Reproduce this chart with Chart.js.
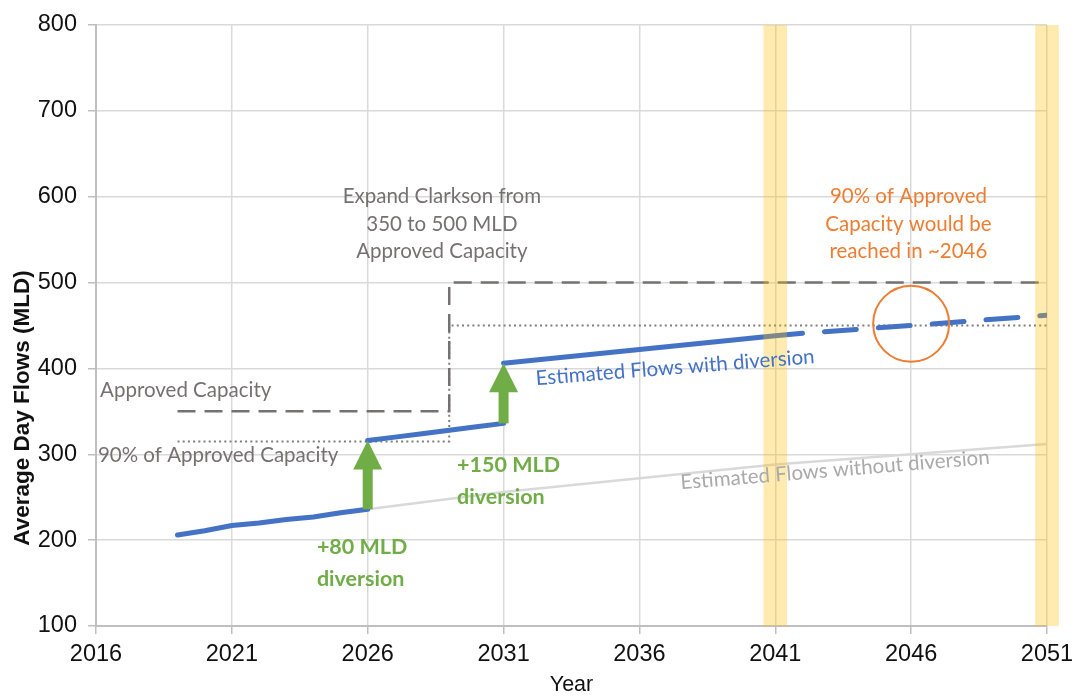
<!DOCTYPE html>
<html>
<head>
<meta charset="utf-8">
<script src="https://cdn.jsdelivr.net/npm/chart.js@4/dist/chart.umd.min.js"></script>
<style>
  html, body { margin: 0; padding: 0; background: #ffffff; }
  canvas { display: block; }
</style>
</head>
<body>
<canvas id="chart" width="1076" height="696" style="width:1076px;height:696px"></canvas>
<script>
// Average day flows (MLD) with the planned diversions
const withYears = [2019, 2020, 2021, 2022, 2023, 2024, 2025, 2026, 2026, 2027, 2028, 2029, 2030, 2031, 2031, 2036, 2041, 2042, 2046, 2051];
const withFlows = [206, 211, 217, 220, 224, 227, 232, 236, 316, 320, 324, 328, 332, 336, 406, 422, 438, 441, 450, 462];
const projectionFrom = 2042; // flows beyond this year are drawn dashed

// Average day flows (MLD) if nothing is diverted
const withoutYears = [2026, 2031, 2036, 2041, 2046, 2051];
const withoutFlows = [236, 256, 272, 288, 300, 312];

// Approved capacity and its 90% trigger level
const capacityYears = [2019, 2029, 2029, 2051];
const capacityValues = [350, 350, 500, 500];
const ninetyValues = [315, 315, 450, 450];

// Diversion steps
const diversionYears = [2026, 2031];
const diversionFrom = [236, 336];
const diversionTo = [316, 406];
const diversionLabels = [['+80 MLD', 'diversion'], ['+150 MLD', 'diversion']];

// Milestone years highlighted, and when 90% of capacity is reached
const milestoneYears = [2041, 2051];
const reachedYear = [2046];
const reachedFlow = [452];

// Axis ticks
const yearTicks = [2016, 2021, 2026, 2031, 2036, 2041, 2046, 2051];
const flowTicks = [100, 200, 300, 400, 500, 600, 700, 800];

const pts = (xs, ys) => xs.map((x, i) => ({ x: x, y: ys[i] }));

const BLUE = '#4472C4', GREEN = '#70AD47', ORANGE = '#ED7D31', GREY = '#767171';
const NOTE_FONT = 'Lato, "Open Sans", sans-serif';
const AXIS_FONT = '"Liberation Sans", Arial, sans-serif';

function drawText(ctx, lines, px, py, opts) {
  ctx.save();
  ctx.translate(px, py);
  if (opts.angle) ctx.rotate(opts.angle * Math.PI / 180);
  ctx.font = opts.font;
  ctx.fillStyle = opts.color;
  ctx.textAlign = opts.align || 'center';
  ctx.textBaseline = 'middle';
  lines.forEach((s, i) => ctx.fillText(s, 0, i * (opts.lineHeight || 0)));
  ctx.restore();
}

const overlay = {
  id: 'overlay',
  afterDatasetsDraw(chart) {
    const { ctx, scales: { x, y }, chartArea } = chart;

    // green diversion arrows
    ctx.save();
    ctx.fillStyle = GREEN;
    diversionYears.forEach((yr, i) => {
      const cx = x.getPixelForValue(yr);
      const yBase = y.getPixelForValue(diversionFrom[i]);
      const yTip = y.getPixelForValue(diversionTo[i]);
      const headH = 29, headW = 29, shaftW = 10;
      ctx.fillRect(cx - shaftW / 2, yTip + headH - 1, shaftW, yBase - yTip - headH + 1);
      ctx.beginPath();
      ctx.moveTo(cx, yTip);
      ctx.lineTo(cx + headW / 2, yTip + headH);
      ctx.lineTo(cx - headW / 2, yTip + headH);
      ctx.closePath();
      ctx.fill();
    });
    ctx.restore();

    // translucent milestone bands
    ctx.save();
    ctx.fillStyle = 'rgba(255, 192, 0, 0.31)';
    milestoneYears.forEach(yr => {
      const l = x.getPixelForValue(yr - 0.435);
      const r = x.getPixelForValue(yr + 0.435);
      ctx.fillRect(l, chartArea.top, r - l, chartArea.bottom - chartArea.top);
    });
    ctx.restore();
  },
  afterDraw(chart) {
    const { ctx, scales: { x, y } } = chart;
    const P = (xv, yv) => [x.getPixelForValue(xv), y.getPixelForValue(yv)];
    const note = '20.5px ' + NOTE_FONT;

    drawText(ctx, ['Approved Capacity'], ...P(2016.15, 375), { font: note, color: GREY, align: 'left' });
    drawText(ctx, ['90% of Approved Capacity'], ...P(2016.07, 299), { font: note, color: GREY, align: 'left' });
    drawText(ctx, ['Expand Clarkson from', '350 to 500 MLD', 'Approved Capacity'], ...P(2028.73, 600),
      { font: note, color: GREY, lineHeight: 27.5 });
    drawText(ctx, ['90% of Approved', 'Capacity would be', 'reached in ~2046'], ...P(2045.9, 600),
      { font: note, color: ORANGE, lineHeight: 27.5 });

    const labelAnchors = [[2024.13, 192], [2029.29, 287.5]];
    diversionLabels.forEach((lines, i) => {
      drawText(ctx, lines, ...P(labelAnchors[i][0], labelAnchors[i][1]),
        { font: 'bold 21.5px ' + NOTE_FONT, color: GREEN, align: 'left', lineHeight: 32 });
    });

    drawText(ctx, ['Estimated Flows with diversion'], ...P(2037.31, 401), { font: note, color: BLUE, angle: -4.5 });
    drawText(ctx, ['Estimated Flows without diversion'], ...P(2043.2, 281.7), { font: note, color: '#aaaaaa', angle: -4.7 });

    // y axis title
    drawText(ctx, ['Average Day Flows (MLD)'], 23, 408,
      { font: 'bold 22.5px ' + AXIS_FONT, color: '#111111', angle: -90 });
  }
};

new Chart(document.getElementById('chart'), {
  type: 'line',
  data: {
    datasets: [
      {
        type: 'scatter',
        data: pts(reachedYear, reachedFlow),
        pointRadius: 38,
        pointHoverRadius: 38,
        borderColor: ORANGE,
        borderWidth: 2,
        backgroundColor: 'rgba(0,0,0,0)',
        showLine: false
      },
      {
        data: pts(withYears, withFlows),
        borderColor: BLUE,
        borderWidth: 5,
        borderCapStyle: 'round',
        borderDashOffset: 32,
        pointRadius: 0,
        tension: 0,
        segment: {
          borderColor: c => c.p0.parsed.x === c.p1.parsed.x ? 'rgba(0,0,0,0)' : undefined,
          borderDash: c => c.p0.parsed.x >= projectionFrom ? [32, 22] : undefined
        }
      },
      {
        data: pts(withoutYears, withoutFlows),
        borderColor: '#d9d9d9',
        borderWidth: 2.5,
        pointRadius: 0,
        tension: 0
      },
      {
        data: pts(capacityYears, capacityValues),
        borderColor: GREY,
        borderWidth: 2.5,
        borderDash: [18, 9],
        pointRadius: 0,
        tension: 0
      },
      {
        data: pts(capacityYears, ninetyValues),
        borderColor: '#7f7f7f',
        borderWidth: 2,
        borderDash: [2, 3.2],
        pointRadius: 0,
        tension: 0
      }
    ]
  },
  options: {
    responsive: false,
    animation: false,
    events: [],
    layout: { autoPadding: false, padding: { top: 25, right: 29, left: 0, bottom: 0 } },
    plugins: { legend: { display: false }, tooltip: { enabled: false } },
    scales: {
      x: {
        type: 'linear',
        min: 2016,
        max: 2051,
        afterBuildTicks: s => { s.ticks = yearTicks.map(v => ({ value: v })); },
        afterFit: s => { s.height = 70; s.paddingLeft = 0; s.paddingRight = 0; },
        grid: { color: '#d9d9d9', lineWidth: 1.5, tickLength: 8, tickColor: '#bfbfbf' },
        border: { color: '#bfbfbf', width: 2 },
        ticks: {
          padding: 6,
          color: '#111111',
          font: { family: AXIS_FONT, size: 23.5 },
          callback: v => String(v),
          maxRotation: 0
        },
        title: {
          display: true,
          text: 'Year',
          color: '#111111',
          font: { family: AXIS_FONT, size: 21.5, lineHeight: 1 },
          padding: { top: 0, bottom: 0 }
        }
      },
      y: {
        min: 100,
        max: 800,
        afterBuildTicks: s => { s.ticks = flowTicks.map(v => ({ value: v })); },
        afterFit: s => { s.width = 96; s.paddingTop = 0; s.paddingBottom = 0; },
        grid: { color: '#d9d9d9', lineWidth: 1.5, tickLength: 8, tickColor: '#bfbfbf' },
        border: { color: '#bfbfbf', width: 2 },
        ticks: {
          padding: 11,
          color: '#111111',
          font: { family: AXIS_FONT, size: 23.5 },
          callback: v => String(v)
        }
      }
    }
  },
  plugins: [overlay]
});
</script>
</body>
</html>
